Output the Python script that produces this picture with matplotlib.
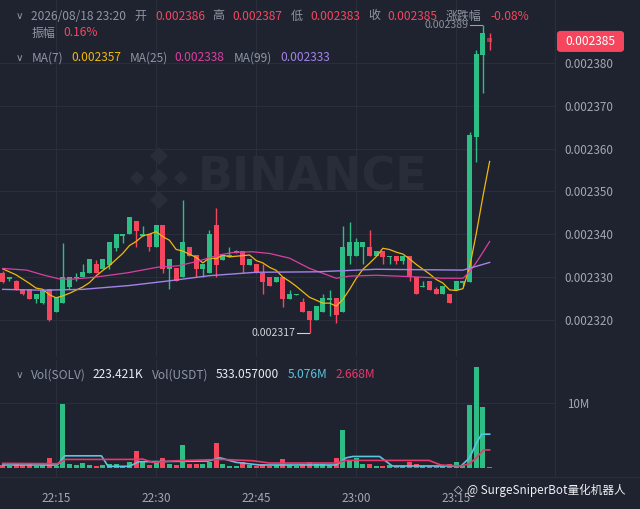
import numpy as np
import matplotlib
matplotlib.use('Agg')
import matplotlib.pyplot as plt
from matplotlib.patches import Polygon, FancyBboxPatch
from matplotlib.lines import Line2D
import pandas as pd

plt.rcParams['font.family'] = ['Noto Sans CJK SC', 'DejaVu Sans']

# ---------------- data (prices in units of 1e-6) ----------------
times = pd.date_range('2026-08-18 22:07', periods=74, freq='1min')

opens = [2331.0, 2329.6, 2329.1, 2327.1, 2327.1, 2324.9, 2323.8, 2327.1, 2321.9, 2324.0,
         2327.7, 2329.7, 2329.9, 2330.9, 2333.0, 2331.9, 2332.7, 2336.8, 2339.7, 2340.1,
         2343.0, 2339.7, 2340.1, 2336.9, 2342.2, 2331.9, 2332.1, 2329.9, 2337.1, 2335.1,
         2331.9, 2330.9, 2342.2, 2334.0, 2334.7, 2335.7, 2336.0, 2332.9, 2333.0, 2331.0,
         2330.1, 2328.8, 2330.1, 2324.9, 2325.7, 2324.1, 2322.1, 2319.9, 2321.9, 2324.6,
         2325.1, 2321.9, 2334.9, 2334.9, 2336.9, 2337.1, 2334.9, 2336.0, 2334.6, 2335.0,
         2333.8, 2335.0, 2329.9, 2327.7, 2329.1, 2327.1, 2325.9, 2326.0, 2327.0, 2328.7,
         2328.9, 2362.8, 2381.9, 2386.0]
highs = [2331.3, 2330.1, 2329.2, 2327.2, 2327.2, 2326.0, 2327.2, 2327.2, 2325.2, 2338.0,
         2330.1, 2330.9, 2333.0, 2334.1, 2334.0, 2334.1, 2338.1, 2340.1, 2340.1, 2344.0,
         2343.0, 2341.9, 2340.1, 2342.2, 2342.2, 2334.2, 2332.1, 2348.0, 2337.1, 2335.1,
         2333.0, 2341.0, 2346.1, 2335.1, 2336.9, 2336.2, 2336.0, 2334.1, 2333.0, 2333.0,
         2330.1, 2330.1, 2330.1, 2327.0, 2326.0, 2325.0, 2322.1, 2323.2, 2326.0, 2327.0,
         2325.1, 2341.9, 2342.9, 2339.0, 2338.1, 2341.0, 2336.0, 2336.0, 2335.0, 2335.0,
         2335.0, 2335.0, 2329.9, 2329.1, 2329.1, 2327.6, 2328.0, 2326.0, 2329.1, 2329.1,
         2363.9, 2383.0, 2389.0, 2387.0]
lows = [2328.7, 2329.1, 2326.9, 2325.8, 2324.8, 2324.0, 2323.7, 2319.8, 2321.8, 2323.8,
        2327.1, 2329.1, 2329.9, 2330.9, 2330.9, 2331.9, 2331.9, 2336.0, 2338.0, 2340.1,
        2337.1, 2339.7, 2336.0, 2336.9, 2331.0, 2327.1, 2329.0, 2329.9, 2334.9, 2329.9,
        2330.1, 2330.9, 2329.9, 2334.0, 2334.7, 2335.6, 2331.0, 2332.9, 2331.0, 2326.0,
        2327.9, 2328.8, 2323.0, 2324.9, 2325.7, 2321.9, 2317.0, 2319.9, 2321.9, 2320.9,
        2319.2, 2321.9, 2333.0, 2334.9, 2333.0, 2334.9, 2334.9, 2333.0, 2333.0, 2333.0,
        2333.0, 2329.1, 2326.0, 2327.7, 2327.0, 2325.9, 2325.9, 2323.8, 2327.0, 2328.0,
        2328.9, 2357.0, 2373.0, 2383.0]
closes = [2328.9, 2330.1, 2327.0, 2325.9, 2324.9, 2326.0, 2327.0, 2319.9, 2325.2, 2330.1,
          2330.1, 2330.1, 2331.2, 2334.1, 2330.9, 2334.1, 2338.1, 2340.1, 2340.1, 2344.0,
          2340.8, 2340.1, 2336.9, 2342.2, 2331.9, 2334.2, 2329.0, 2338.1, 2334.9, 2331.9,
          2333.0, 2340.1, 2332.8, 2335.1, 2335.1, 2336.0, 2332.8, 2334.1, 2331.0, 2328.9,
          2327.9, 2330.1, 2324.9, 2326.0, 2326.0, 2321.9, 2319.9, 2323.2, 2325.1, 2325.1,
          2321.0, 2337.1, 2338.1, 2338.1, 2338.1, 2334.9, 2336.0, 2334.7, 2335.0, 2333.8,
          2335.0, 2330.1, 2326.0, 2328.0, 2327.0, 2325.9, 2328.0, 2323.8, 2329.1, 2329.1,
          2363.2, 2382.1, 2387.0, 2385.0]
# volume in millions of SOLV
vol_m = [0.5, 0.4, 0.6, 0.5, 0.6, 0.3, 0.5, 1.6, 0.4, 9.75,
         0.6, 0.5, 0.8, 0.5, 0.4, 0.5, 0.7, 0.6, 0.4, 0.9,
         2.7, 1.0, 0.5, 0.9, 1.5, 0.7, 0.5, 3.6, 0.6, 0.7,
         0.6, 1.0, 3.8, 0.7, 0.4, 0.3, 1.0, 0.5, 0.3, 0.6,
         0.4, 0.5, 1.4, 0.5, 0.3, 0.7, 0.9, 0.6, 0.7, 0.5,
         1.5, 5.8, 1.3, 1.5, 0.7, 0.6, 0.35, 0.3, 0.5, 0.3,
         0.4, 1.0, 0.6, 0.3, 0.4, 0.4, 0.5, 0.6, 1.0, 0.4,
         9.6, 15.4, 9.35, 0.22]

# MA(7) values read for the first six candles (earlier history not visible)
ma7_lead = [2331.9, 2331.2, 2330.5, 2329.5, 2328.5, 2327.4]
# MA(25) and MA(99) at candle positions
ma25_idx = [0, 3.6, 6, 8.6, 10.5, 13.5, 16.5, 18.8, 23.3, 26.3, 29.3, 32.3, 34.4, 37.4,
            40, 43, 46, 50, 52, 56, 60.8, 65.9, 69, 70, 71, 72, 73]
ma25_val = [2332.0, 2331.6, 2330.5, 2329.5, 2329.5, 2329.9, 2330.5, 2331.0, 2332.3, 2332.6,
            2333.7, 2335.1, 2335.7, 2335.9, 2335.5, 2334.4, 2332.0, 2329.7, 2330.2, 2330.4,
            2330.1, 2329.7, 2329.7, 2331.2, 2333.4, 2335.8, 2338.3]
ma99_idx = [0, 6, 12, 19, 25, 31, 38, 47, 56, 69, 73]
ma99_val = [2327.1, 2326.9, 2327.1, 2328.0, 2329.1, 2330.3, 2331.1, 2331.2, 2331.8, 2331.6, 2333.4]
# volume moving averages (millions)
vma_a_idx = [0, 8.2, 9.3, 14.8, 15.8, 19, 20.4, 30.8, 32.6, 35, 38.5, 50, 51.5, 52.5, 56.5,
             58.4, 68.7, 70, 71, 71.8, 73]
vma_a_val = [0.5, 0.5, 1.9, 1.9, 0.3, 0.3, 1.0, 1.1, 1.6, 0.9, 0.5, 0.5, 1.6, 1.8, 1.8,
             0.35, 0.35, 1.6, 3.8, 5.2, 5.2]
vma_b_idx = [0, 8.2, 9.4, 19, 21, 22.5, 26, 31, 33, 37.5, 40, 50, 51.5, 63.9, 65.7, 68.7,
             70, 71, 72.1, 73]
vma_b_val = [0.75, 0.7, 1.35, 1.35, 1.4, 0.9, 1.15, 1.3, 1.35, 1.15, 0.8, 0.8, 1.2, 1.2,
             0.5, 0.35, 0.7, 1.6, 2.8, 2.8]

price_ticks = [2320, 2330, 2340, 2350, 2360, 2370, 2380]
time_tick_labels = ['22:15', '22:30', '22:45', '23:00', '23:15']

# ---------------- style ----------------
BG = '#1f2330'
GRID = '#2a2e3a'
GREEN = '#2ebd85'
RED = '#f6465d'
GRAY = '#8f96a3'
AXTXT = '#a3a8b3'
YEL = '#f0b90b'
PINK = '#d9409f'
PURP = '#a283e8'
CYAN = '#5bc4e0'
VRED = '#e8386a'

W, H = 640, 509
fig = plt.figure(figsize=(W / 100, H / 100), dpi=100, facecolor=BG)

def fx(x):
    return x / W

def fy(y):
    return 1 - y / H

n = len(opens)
idx = np.arange(n)
o = np.array(opens); h = np.array(highs); l = np.array(lows); c = np.array(closes)
up = c >= o
colors = np.where(up, GREEN, RED)

# main price axes
ax = fig.add_axes([0, fy(357), 555 / W, 357 / H])
ax.set_facecolor(BG)
ax.set_xlim(-0.405, 82.8)
ax.set_ylim(2311.27, 2394.81)

tick_pos = [i for i, t in enumerate(times) if t.strftime('%H:%M') in time_tick_labels]

for p in price_ticks:
    ax.axhline(p, color=GRID, lw=0.8, zorder=0)
for t in tick_pos:
    ax.axvline(t, color=GRID, lw=0.8, zorder=0)

# watermark logo
def diamond(cx, cy, r):
    return Polygon([(fx(cx - r), fy(cy)), (fx(cx), fy(cy - r)), (fx(cx + r), fy(cy)), (fx(cx), fy(cy + r))],
                   closed=True, transform=fig.transFigure, facecolor='#292d3a', edgecolor='none', zorder=0)
for (dx, dy, r) in [(0, 0, 9), (-22, 0, 7), (22, 0, 7), (0, -22, 9), (0, 22, 9)]:
    ax.add_patch(diamond(159 + dx, 178 + dy, r))
fig.text(fx(198), fy(178), 'BINANCE', color='#292d3a', fontsize=33, fontweight='bold',
         family='DejaVu Sans', va='center', ha='left', zorder=0)

# candles
ax.vlines(idx, l, h, colors=colors, lw=1.0, zorder=2)
body_bot = np.minimum(o, c)
body_h = np.maximum(np.abs(c - o), 0.25)
bars = ax.bar(idx, body_h, bottom=body_bot, width=0.74, color=colors, zorder=3, linewidth=0)
bars[-1].set_alpha(0.6)

# moving averages
ma7_calc = pd.Series(closes).rolling(7).mean().to_numpy()
ma7 = np.concatenate([ma7_lead, ma7_calc[6:]])
ax.plot(idx, ma7, color=YEL, lw=0.9, zorder=4)
ax.plot(ma25_idx, ma25_val, color=PINK, lw=0.9, zorder=4)
ax.plot(ma99_idx, ma99_val, color=PURP, lw=1.0, zorder=4)

# high / low markers
hi_i = int(np.argmax(h)); lo_i = int(np.argmin(l))
ax.plot([hi_i - 1.9, hi_i - 0.2], [h[hi_i], h[hi_i]], color='#9aa0aa', lw=0.8, zorder=5)
ax.text(hi_i - 2.1, h[hi_i], f'{h[hi_i] * 1e-6:.6f}', color='#8c919b', fontsize=7.6,
        ha='right', va='center', zorder=5)
ax.plot([lo_i - 1.9, lo_i - 0.1], [l[lo_i], l[lo_i]], color='#d0d3d8', lw=0.8, zorder=5)
ax.text(lo_i - 2.1, l[lo_i], f'{l[lo_i] * 1e-6:.6f}', color='#d0d3d8', fontsize=7.6,
        ha='right', va='center', zorder=5)

ax.yaxis.tick_right()
ax.set_yticks(price_ticks)
ax.set_yticklabels([f'{p * 1e-6:.6f}' for p in price_ticks])
ax.tick_params(axis='y', length=0, pad=7, labelsize=8.4, labelcolor=AXTXT)
ax.set_xticks([])
for s in ax.spines.values():
    s.set_visible(False)

# current price box
last = closes[-1]
yl = ax.transData.transform((0, last))[1]
ypix = H - yl
box = FancyBboxPatch((fx(557), fy(ypix + 10)), fx(624) - fx(557), (21) / H,
                     boxstyle='round,pad=0,rounding_size=0.006', transform=fig.transFigure,
                     facecolor=RED, edgecolor='none', zorder=10)
fig.patches.append(box)
fig.text(fx(590.5), fy(ypix), f'{last * 1e-6:.6f}', color='white', fontsize=8.6,
         ha='center', va='center', zorder=11)

# volume axes
vax = fig.add_axes([0, fy(477), 555 / W, 117 / H])
vax.set_facecolor(BG)
vax.set_xlim(-0.405, 82.8)
vax.set_ylim(-1.33, 16.51)
vax.axhline(10, color=GRID, lw=0.8, zorder=0)
for t in tick_pos:
    vax.axvline(t, color=GRID, lw=0.8, zorder=0)
vax.bar(idx, vol_m, width=0.74, color=colors, linewidth=0, zorder=2)
vax.plot(vma_a_idx, vma_a_val, color=CYAN, lw=1.2, zorder=3)
vax.plot(vma_b_idx, vma_b_val, color=VRED, lw=1.2, zorder=3)
vax.yaxis.tick_right()
vax.set_yticks([10])
vax.set_yticklabels(['10M'])
vax.tick_params(axis='y', length=0, pad=9, labelsize=8.4, labelcolor=AXTXT)
vax.set_xticks(tick_pos)
vax.set_xticklabels(time_tick_labels)
vax.tick_params(axis='x', length=0, pad=11, labelsize=8.4, labelcolor=AXTXT)
for s in vax.spines.values():
    s.set_visible(False)

# separators
fig.add_artist(Line2D([fx(555), fx(555)], [fy(0), fy(477)], transform=fig.transFigure, color=GRID, lw=0.9))
fig.add_artist(Line2D([0, 1], [fy(477), fy(477)], transform=fig.transFigure, color=GRID, lw=0.9))

# header texts
FS = 8.6
def t(x, y, s, col, fs=FS, **kw):
    fig.text(fx(x), fy(y), s, color=col, fontsize=fs, ha='left', va='center', **kw)

t(16, 16, '∨', GRAY, 7.5, family='DejaVu Sans')
t(31.4, 16, times[-1].strftime('%Y/%m/%d %H:%M'), GRAY)
t(134.7, 16, '开', GRAY); t(155, 16, f'{opens[-1] * 1e-6:.6f}', RED)
t(212, 16, '高', GRAY); t(232.7, 16, f'{highs[-1] * 1e-6:.6f}', RED)
t(290.6, 16, '低', GRAY); t(310, 16, f'{lows[-1] * 1e-6:.6f}', RED)
t(368.6, 16, '收', GRAY); t(387.8, 16, f'{closes[-1] * 1e-6:.6f}', RED)
t(446, 16, '涨跌幅', GRAY); t(490, 16, '-0.08%', RED)
t(31.4, 33, '振幅', GRAY); t(63, 33, '0.16%', RED)

t(16, 58, '∨', GRAY, 7.5, family='DejaVu Sans')
t(31.4, 58, 'MA(7)', GRAY); t(71.4, 58, '0.002357', YEL)
t(129.8, 58, 'MA(25)', GRAY); t(174.7, 58, '0.002338', PINK)
t(233.5, 58, 'MA(99)', GRAY); t(280.4, 58, '0.002333', PURP)

t(16, 375, '∨', GRAY, 7.5, family='DejaVu Sans')
t(31.4, 375, 'Vol(SOLV)', GRAY); t(93, 375, '223.421K', '#eaecef')
t(152, 375, 'Vol(USDT)', GRAY); t(216, 375, '533.057000', '#eaecef')
t(288, 375, '5.076M', CYAN); t(335.5, 375, '2.668M', VRED)

# watermark of the source
t(454, 490, '◇', '#e6e8ea', 8, family='DejaVu Sans')
t(467, 490, '@ SurgeSniperBot量化机器人', '#eef0f2', 8.4)

fig.savefig('out.png', dpi=100, facecolor=BG)
